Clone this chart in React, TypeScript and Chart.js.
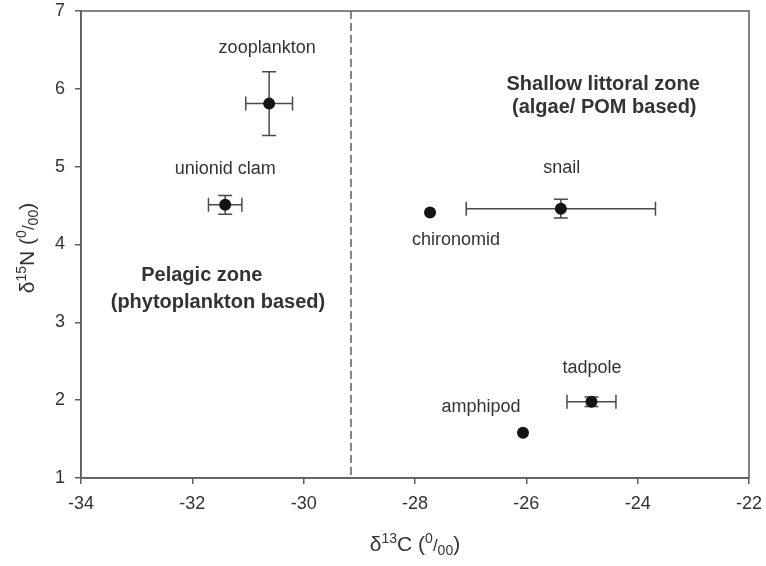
import React, { useEffect, useRef } from "react";
import { Chart, registerables } from "chart.js";

Chart.register(...registerables);

// Stable isotope signatures of the food-web taxa (mean ± SD)
const taxa = ["zooplankton", "unionid clam", "chironomid", "snail", "tadpole", "amphipod"];
const carbon = [-30.62, -31.41, -27.73, -25.38, -24.83, -26.06];
const nitrogen = [5.81, 4.51, 4.41, 4.46, 1.98, 1.58];
const carbonSD = [0.42, 0.3, 0, 1.7, 0.44, 0];
const nitrogenSD = [0.41, 0.12, 0, 0.12, 0.06, 0];

const xTicks = [-34, -32, -30, -28, -26, -24, -22];
const yTicks = [1, 2, 3, 4, 5, 6, 7];

// Boundary between pelagic and littoral carbon sources
const zoneBoundary = -29.15;
const zoneNames = ["Pelagic zone", "(phytoplankton based)", "Shallow littoral zone", "(algae/ POM based)"];
const zoneX = [-31.83, -31.54, -24.62, -24.6];
const zoneY = [3.6, 3.257, 6.06, 5.765];

// Pixel offsets of each taxon name from its point
const labelOffsets: [number, number][] = [
  [-2, -56],
  [0, -36],
  [26, 27],
  [1, -41],
  [0.5, -34],
  [-42, -26],
];

const FONT = '"Liberation Sans", Arial, Helvetica, sans-serif';
const TEXT = "#333333";
const AXIS = "#5e5e5e";
const MARK = "#141414";

type Seg = { t: string; size: number; dy: number };

function drawRich(ctx: CanvasRenderingContext2D, segs: Seg[], cx: number, baseline: number) {
  let total = 0;
  const widths = segs.map((s) => {
    ctx.font = `${s.size}px ${FONT}`;
    const w = ctx.measureText(s.t).width;
    total += w;
    return w;
  });
  let x = cx - total / 2;
  ctx.textAlign = "left";
  ctx.textBaseline = "alphabetic";
  segs.forEach((s, i) => {
    ctx.font = `${s.size}px ${FONT}`;
    ctx.fillText(s.t, x, baseline + s.dy);
    x += widths[i];
  });
}

const xTitle: Seg[] = [
  { t: "\u03B4", size: 21, dy: 0 },
  { t: "13", size: 14, dy: -8 },
  { t: "C (", size: 21, dy: 0 },
  { t: "0", size: 14, dy: -8 },
  { t: "/", size: 17, dy: 0 },
  { t: "00", size: 14, dy: 4 },
  { t: ")", size: 21, dy: 0 },
];
const yTitle: Seg[] = [
  { t: "\u03B4", size: 21, dy: 0 },
  { t: "15", size: 14, dy: -8 },
  { t: "N (", size: 21, dy: 0 },
  { t: "0", size: 14, dy: -8 },
  { t: "/", size: 17, dy: 0 },
  { t: "00", size: 14, dy: 4 },
  { t: ")", size: 21, dy: 0 },
];

const isotopePlugin = {
  id: "isotopeDecor",
  beforeDatasetsDraw(chart: any) {
    const { ctx, chartArea: a, scales } = chart;
    const xs = scales.x;
    const ys = scales.y;
    ctx.save();
    ctx.strokeStyle = AXIS;
    ctx.lineWidth = 1.5;
    ctx.strokeRect(a.left, a.top, a.right - a.left, a.bottom - a.top);

    // zone divider
    const bx = xs.getPixelForValue(zoneBoundary);
    ctx.setLineDash([8, 4]);
    ctx.beginPath();
    ctx.moveTo(bx, a.top);
    ctx.lineTo(bx, a.bottom);
    ctx.stroke();
    ctx.setLineDash([]);

    // error bars
    const cap = 7;
    ctx.lineWidth = 1.5;
    ctx.strokeStyle = "#4a4a4a";
    taxa.forEach((_, i) => {
      const px = xs.getPixelForValue(carbon[i]);
      const py = ys.getPixelForValue(nitrogen[i]);
      if (carbonSD[i] > 0) {
        const l = xs.getPixelForValue(carbon[i] - carbonSD[i]);
        const r = xs.getPixelForValue(carbon[i] + carbonSD[i]);
        ctx.beginPath();
        ctx.moveTo(l, py);
        ctx.lineTo(r, py);
        ctx.moveTo(l, py - cap);
        ctx.lineTo(l, py + cap);
        ctx.moveTo(r, py - cap);
        ctx.lineTo(r, py + cap);
        ctx.stroke();
      }
      if (nitrogenSD[i] > 0) {
        const t = ys.getPixelForValue(nitrogen[i] + nitrogenSD[i]);
        const b = ys.getPixelForValue(nitrogen[i] - nitrogenSD[i]);
        ctx.beginPath();
        ctx.moveTo(px, t);
        ctx.lineTo(px, b);
        ctx.moveTo(px - cap, t);
        ctx.lineTo(px + cap, t);
        ctx.moveTo(px - cap, b);
        ctx.lineTo(px + cap, b);
        ctx.stroke();
      }
    });
    ctx.restore();
  },
  afterDatasetsDraw(chart: any) {
    const { ctx, chartArea: a, scales } = chart;
    const xs = scales.x;
    const ys = scales.y;
    ctx.save();
    ctx.fillStyle = TEXT;
    ctx.textAlign = "center";
    ctx.textBaseline = "middle";

    ctx.font = `18px ${FONT}`;
    taxa.forEach((name, i) => {
      const px = xs.getPixelForValue(carbon[i]);
      const py = ys.getPixelForValue(nitrogen[i]);
      ctx.fillText(name, px + labelOffsets[i][0], py + labelOffsets[i][1]);
    });

    ctx.font = `bold 20px ${FONT}`;
    zoneNames.forEach((name, i) => {
      ctx.fillText(name, xs.getPixelForValue(zoneX[i]), ys.getPixelForValue(zoneY[i]));
    });

    // axis titles
    drawRich(ctx, xTitle, (a.left + a.right) / 2, a.bottom + 72.5);
    ctx.translate(34, 248);
    ctx.rotate(-Math.PI / 2);
    drawRich(ctx, yTitle, 0, 0);
    ctx.restore();
  },
};

export default function App() {
  const ref = useRef<HTMLCanvasElement | null>(null);

  useEffect(() => {
    if (!ref.current) return;
    const tickFont = { family: FONT, size: 18 };
    const chart = new Chart(ref.current, {
      type: "scatter",
      data: {
        datasets: [
          {
            label: "taxa",
            data: taxa.map((_, i) => ({ x: carbon[i], y: nitrogen[i] })),
            pointRadius: 6,
            pointHoverRadius: 6,
            backgroundColor: MARK,
            borderColor: MARK,
            borderWidth: 0,
          },
        ],
      },
      options: {
        animation: false,
        responsive: false,
        devicePixelRatio: 1,
        layout: { padding: { top: 11, right: 17, left: 0, bottom: 0 } },
        plugins: {
          legend: { display: false },
          tooltip: { enabled: false },
        },
        events: [],
        scales: {
          x: {
            type: "linear",
            min: -34,
            max: -22,
            afterBuildTicks: (s: any) => {
              s.ticks = xTicks.map((v) => ({ value: v }));
            },
            afterFit: (s: any) => {
              s.height = 88;
              s.paddingLeft = 0;
              s.paddingRight = 0;
            },
            ticks: {
              color: TEXT,
              font: tickFont,
              padding: 9,
              callback: (v: any) => String(v),
            },
            grid: {
              display: true,
              drawOnChartArea: false,
              drawTicks: true,
              tickLength: 6,
              color: AXIS,
              lineWidth: 1.5,
            },
            border: { display: true, color: AXIS, width: 1.5 },
          },
          y: {
            type: "linear",
            min: 1,
            max: 7,
            afterBuildTicks: (s: any) => {
              s.ticks = yTicks.map((v) => ({ value: v }));
            },
            afterFit: (s: any) => {
              s.width = 81;
              s.paddingTop = 0;
              s.paddingBottom = 0;
            },
            ticks: {
              color: TEXT,
              font: tickFont,
              padding: 10,
              callback: (v: any) => String(v),
            },
            grid: {
              display: true,
              drawOnChartArea: false,
              drawTicks: true,
              tickLength: 6,
              color: AXIS,
              lineWidth: 1.5,
            },
            border: { display: true, color: AXIS, width: 1.5 },
          },
        },
      },
      plugins: [isotopePlugin],
    });
    return () => chart.destroy();
  }, []);

  return (
    <div style={{ position: "fixed", left: 0, top: 0, width: 766, height: 566, background: "#ffffff" }}>
      <canvas ref={ref} width={766} height={566} style={{ display: "block", width: 766, height: 566 }} />
    </div>
  );
}
